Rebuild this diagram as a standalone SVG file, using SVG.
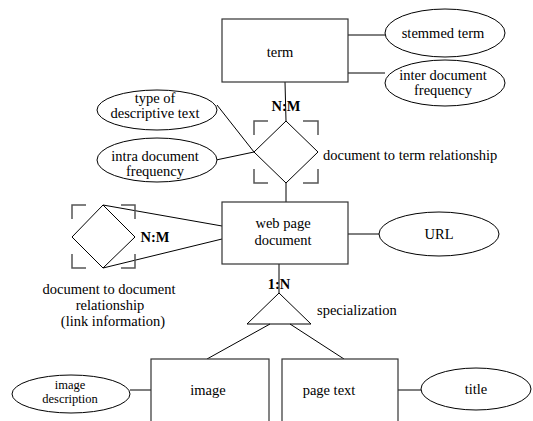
<svg xmlns="http://www.w3.org/2000/svg" width="533" height="421" viewBox="0 0 533 421" font-family="'Liberation Serif','Times New Roman',serif">
<style>
text{font-family:"Liberation Serif","Times New Roman",serif;font-size:14.5px;fill:#000;text-anchor:middle}
.b{font-weight:bold}
.l{text-anchor:start}
.s{font-size:12.5px}
.ent{fill:#fff;stroke:#333;stroke-width:1.2}
.att{fill:#fff;stroke:#000;stroke-width:1}
.rel{fill:none;stroke:#000;stroke-width:1}
.brk{fill:none;stroke:#555;stroke-width:1.5}
.con line{stroke:#000;stroke-width:1;fill:none}
</style>
<rect width="533" height="421" fill="#fff"/>
<g class="con">
<line x1="348" y1="35" x2="385" y2="35"/>
<line x1="348" y1="73" x2="385" y2="73"/>
<line x1="285" y1="82" x2="286" y2="121"/>
<line x1="217" y1="105" x2="254" y2="152"/>
<line x1="216" y1="160" x2="254" y2="152"/>
<line x1="286" y1="183" x2="286" y2="202"/>
<line x1="348" y1="234" x2="379" y2="234"/>
<line x1="103" y1="205" x2="222" y2="226"/>
<line x1="103" y1="268" x2="222" y2="239"/>
<line x1="279" y1="264" x2="279" y2="293"/>
<line x1="270" y1="324" x2="207" y2="359"/>
<line x1="290" y1="324" x2="344" y2="359"/>
<line x1="130" y1="390" x2="151" y2="390"/>
<line x1="398" y1="390" x2="421" y2="390"/>
</g>
<g id="term"><rect class="ent" x="222" y="19" width="126" height="63"/><text x="280" y="57">term</text></g>
<g id="stemmed-term"><ellipse class="att" cx="445" cy="33" rx="60" ry="24"/><text x="443" y="38">stemmed term</text></g>
<g id="inter-doc-freq"><ellipse class="att" cx="445" cy="83" rx="60" ry="23"/><text x="443" y="80">inter document</text><text x="443" y="95">frequency</text></g>
<g id="type-of-text"><ellipse class="att" cx="157" cy="110" rx="60" ry="20"/><text x="155" y="103">type of</text><text x="155" y="118">descriptive text</text></g>
<g id="intra-doc-freq"><ellipse class="att" cx="157" cy="160" rx="60" ry="22"/><text x="155" y="161">intra document</text><text x="155" y="176">frequency</text></g>
<g id="doc-term-rel">
<polygon class="rel" points="286,121 318,152 286,183 254,152"/>
<path class="brk" d="M254,135V121H268M303,121H318V135M254,169V183H268M303,183H318V169"/>
<text class="b" x="286" y="111">N:M</text>
<text class="l" x="323" y="160">document to term relationship</text>
</g>
<g id="web-page-document"><rect class="ent" x="222" y="202" width="126" height="62"/><text x="283" y="228">web page</text><text x="283" y="245">document</text></g>
<g id="url"><ellipse class="att" cx="439" cy="234" rx="60" ry="22"/><text x="439" y="239">URL</text></g>
<g id="doc-doc-rel">
<polygon class="rel" points="103,205 135,237 103,268 72,237"/>
<path class="brk" d="M72,219V205H86M121,205H135V219M72,254V268H86M121,268H135V254"/>
<text class="b" x="155" y="242">N:M</text>
<text x="109" y="294">document to document</text>
<text x="110" y="310">relationship</text>
<text x="113" y="326">(link information)</text>
</g>
<g id="specialization">
<polygon class="rel" points="279,293 311,324 247,324"/>
<text class="b" x="279" y="289">1:N</text>
<text class="l" x="317" y="315">specialization</text>
</g>
<g id="image"><rect class="ent" x="151" y="359" width="118" height="70"/><text x="208" y="395">image</text></g>
<g id="page-text"><rect class="ent" x="282" y="359" width="116" height="70"/><text x="329" y="395">page text</text></g>
<g id="image-description"><ellipse class="att" cx="71" cy="394" rx="59" ry="19"/><text class="s" x="70" y="389">image</text><text class="s" x="70" y="403">description</text></g>
<g id="title"><ellipse class="att" cx="476" cy="389" rx="55" ry="21"/><text x="476" y="394">title</text></g>
</svg>
